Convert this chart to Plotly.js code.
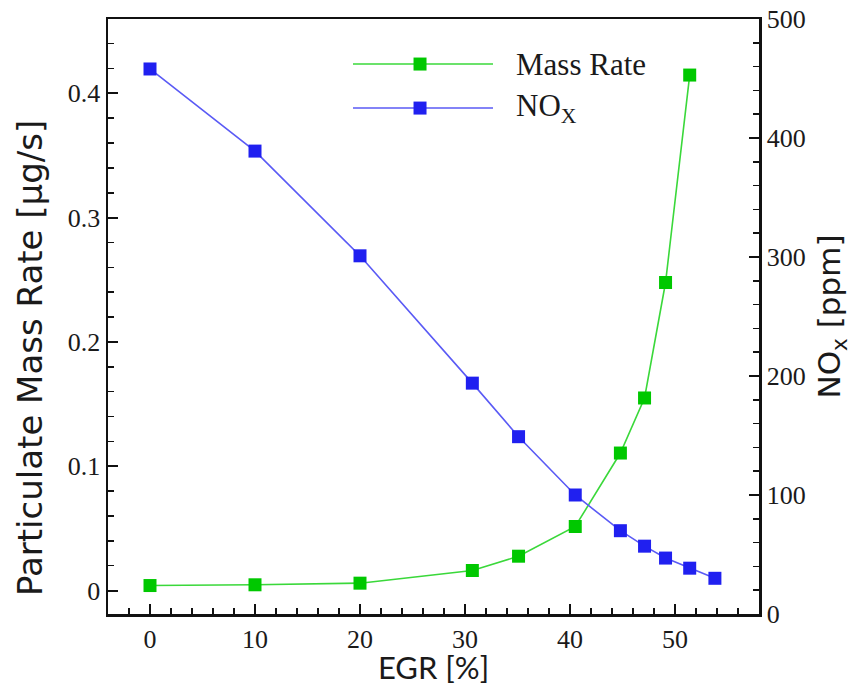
<!DOCTYPE html>
<html>
<head>
<meta charset="utf-8">
<script src="https://cdn.plot.ly/plotly-3.0.1.min.js"></script>
<style>html,body{margin:0;padding:0;background:#fff;}#chart{width:858px;height:686px;}</style>
</head>
<body>
<div id="chart"></div>
<script>
// EGR [%] positions
const egrMass = [0, 10, 20, 30.7, 35.1, 40.5, 44.8, 47.1, 49.1, 51.4];
const egrNox  = [0, 10, 20, 30.7, 35.1, 40.5, 44.8, 47.1, 49.1, 51.4, 53.8];
// Particulate mass rate [µg/s]
const massRate = [0.0040, 0.0046, 0.0059, 0.0161, 0.0276, 0.0515, 0.1106, 0.1549, 0.2478, 0.4147];
// NOx [ppm]
const noxPpm = [458, 389, 301, 194, 149, 100, 70, 57, 47, 38.5, 30];

const seriesNames = ['Mass Rate', 'NO<sub>X</sub>'];

const green = '#00c800', greenLine = '#3ad83a';
const blue = '#2020f0', blueLine = '#5a5af5';
const serif = 'Liberation Serif, Times New Roman, serif';
const sans = 'Lato, Open Sans, sans-serif';
const wideSans = 'DejaVu Sans, Verdana, sans-serif';
const ink = '#1a1a1a';

const traces = [
  {x: egrNox, y: noxPpm, yaxis: 'y2', type: 'scatter', mode: 'lines+markers', name: seriesNames[1],
   line: {color: blueLine, width: 1.6}, marker: {symbol: 'square', size: 13, color: blue}},
  {x: egrMass, y: massRate, yaxis: 'y', type: 'scatter', mode: 'lines+markers', name: seriesNames[0],
   line: {color: greenLine, width: 1.6}, marker: {symbol: 'square', size: 13, color: green}}
];

// legend geometry (paper coords)
const legY = [0.9243, 0.8503];
const legColors = [[green, greenLine], [blue, blueLine]];
const shapes = [], annotations = [];
legY.forEach((yy, i) => {
  shapes.push({type: 'line', xref: 'paper', yref: 'paper', x0: 0.3763, x1: 0.5914, y0: yy, y1: yy,
    line: {color: legColors[i][1], width: 1.6}});
  shapes.push({type: 'rect', xref: 'paper', yref: 'paper', xsizemode: 'pixel', ysizemode: 'pixel',
    xanchor: 0.4793, yanchor: yy, x0: -6.5, x1: 6.5, y0: -6.5, y1: 6.5, fillcolor: legColors[i][0], line: {width: 0}});
  annotations.push({xref: 'paper', yref: 'paper', x: 0.624, y: yy, xanchor: 'left', yanchor: 'middle',
    showarrow: false, text: seriesNames[i], font: {family: serif, size: 31, color: ink}});
});
annotations.push({xref: 'paper', yref: 'paper', x: -0.12, y: 0.43, xanchor: 'center', yanchor: 'middle',
  textangle: -90, showarrow: false, text: 'Particulate Mass Rate [µg/s]', font: {family: wideSans, size: 34, color: ink}});

const axisCommon = {
  showline: true, linewidth: 2.5, linecolor: '#111', ticks: 'inside', ticklen: 10, tickwidth: 2, tickcolor: '#111',
  showgrid: false, zeroline: false, tickfont: {family: serif, size: 26, color: ink}
};

const layout = {
  width: 858, height: 686,
  margin: {l: 108, r: 99, t: 19, b: 72},
  paper_bgcolor: '#fff', plot_bgcolor: '#fff',
  showlegend: false,
  xaxis: Object.assign({}, axisCommon, {
    range: [-4, 58], tick0: 0, dtick: 10, mirror: true,
    minor: {dtick: 2, ticks: 'inside', ticklen: 6, tickwidth: 1.5, tickcolor: '#111'},
    title: {text: 'EGR [%]', font: {family: sans, size: 31, color: ink}, standoff: 13}
  }),
  yaxis: Object.assign({}, axisCommon, {
    range: [-0.0189, 0.4598], tick0: 0, dtick: 0.1,
    minor: {dtick: 0.02, ticks: 'inside', ticklen: 6, tickwidth: 1.5, tickcolor: '#111'}
  }),
  yaxis2: Object.assign({}, axisCommon, {
    overlaying: 'y', side: 'right', range: [0, 500], tick0: 0, dtick: 100,
    minor: {dtick: 20, ticks: 'inside', ticklen: 6, tickwidth: 1.5, tickcolor: '#111'},
    title: {text: 'NO<sub>x</sub> [ppm]', font: {family: wideSans, size: 31, color: ink}, standoff: 14}
  }),
  shapes: shapes,
  annotations: annotations
};

Plotly.newPlot('chart', traces, layout, {displayModeBar: false, staticPlot: true});
</script>
</body>
</html>
